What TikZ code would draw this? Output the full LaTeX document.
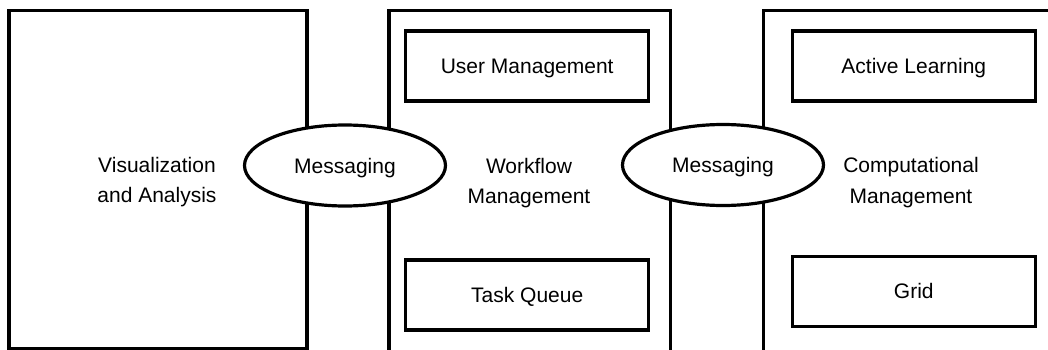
\documentclass[tikz,border=0pt]{standalone}
\usepackage{fontspec}
\setmainfont{Liberation Sans}
\usetikzlibrary{shapes.geometric}
\begin{document}
\begin{tikzpicture}[x=1pt,y=-1pt,
  line width=3.2pt,
  txt/.style={font=\fontsize{21}{30.5}\selectfont, align=center, inner sep=0pt},
  inbox/.style={draw, rectangle, minimum width=243pt, minimum height=70pt, inner sep=0pt, text depth=0pt, font=\fontsize{21}{30.5}\selectfont},
  msg/.style={draw, ellipse, fill=white, minimum width=201pt, minimum height=81pt, inner sep=0pt, text depth=0pt, font=\fontsize{21}{30.5}\selectfont}]
\useasboundingbox (0,0) rectangle (1048,350);
\clip (0,0) rectangle (1048,350);
% outer boxes
\draw (9,10.7) rectangle (307,348.3);
\draw (389,10.7) rectangle (670.3,365);
\draw (763.3,10.7) rectangle (1065,365);
% inner boxes
\node[inbox] (user) at (527.2,66) {User Management};
\node[inbox] (task) at (527.2,295) {Task Queue};
\node[inbox] (al) at (913.8,66) {Active Learning};
\node[inbox] (grid) at (913.8,291.2) {Grid};
% labels
\node[txt] (vis) at (157,182) {Visualization\\and Analysis};
\node[txt] (wf) at (529,183) {Workflow\\Management};
\node[txt] (cm) at (911,182.5) {Computational\\Management};
% messaging ellipses
\node[msg] (m1) at (345,165.5) {Messaging};
\node[msg] (m2) at (723,165) {Messaging};
\end{tikzpicture}
\end{document}
